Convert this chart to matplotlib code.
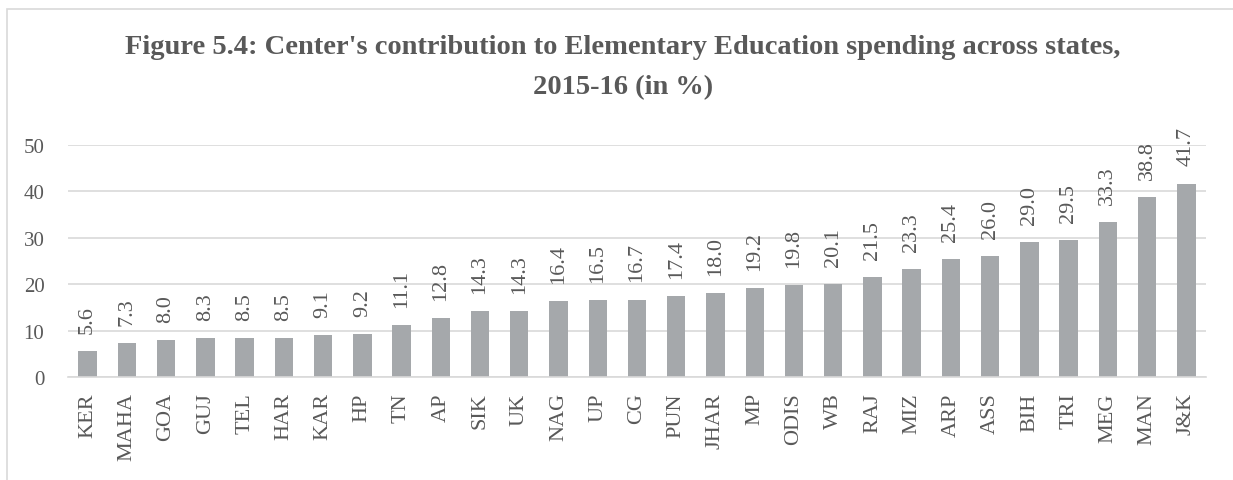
import matplotlib.pyplot as plt
import numpy as np
from matplotlib.patches import Rectangle

states = ['KER', 'MAHA', 'GOA', 'GUJ', 'TEL', 'HAR', 'KAR', 'HP', 'TN', 'AP',
          'SIK', 'UK', 'NAG', 'UP', 'CG', 'PUN', 'JHAR', 'MP', 'ODIS', 'WB',
          'RAJ', 'MIZ', 'ARP', 'ASS', 'BIH', 'TRI', 'MEG', 'MAN', 'J&K']
share = [5.6, 7.3, 8.0, 8.3, 8.5, 8.5, 9.1, 9.2, 11.1, 12.8,
         14.3, 14.3, 16.4, 16.5, 16.7, 17.4, 18.0, 19.2, 19.8, 20.1,
         21.5, 23.3, 25.4, 26.0, 29.0, 29.5, 33.3, 38.8, 41.7]

txt = '#595959'
plt.rcParams['font.family'] = ['Liberation Serif', 'DejaVu Serif']

fig = plt.figure(figsize=(12.33, 4.81), dpi=100)
ax = fig.add_axes([68 / 1233, 1 - 378 / 481, (1206 - 68) / 1233, (378 - 146) / 481])

# outer chart frame, clipped by the figure edge on right and bottom
fig.patches.append(Rectangle((7 / 1233, -0.1), 1.2, 1 - 10 / 481 + 0.1,
                             transform=fig.transFigure, fill=False,
                             edgecolor='#d9d9d9', linewidth=1.2))

x = np.arange(len(states))
ax.bar(x, share, width=0.47, color='#a5a8ab', zorder=2)
for xi, v in zip(x, share):
    ax.annotate(f'{v:.1f}', (xi, v), xytext=(0, 13), textcoords='offset points',
                rotation=90, ha='center', va='bottom',
                fontsize=16, color=txt, zorder=3)

ax.set_xlim(-0.5, len(states) - 0.5)
ax.set_ylim(0, 50)
ax.set_yticks(range(0, 51, 10))
ax.yaxis.grid(True, color='#d9d9d9', linewidth=1.2, zorder=0)
ax.set_axisbelow(True)
ax.set_xticks(x)
ax.set_xticklabels(states, rotation=90, fontsize=16, color=txt)
ax.tick_params(axis='y', labelsize=15, labelcolor=txt, length=0, pad=17)
ax.tick_params(axis='x', length=0, pad=11)
for s in ['top', 'right', 'left']:
    ax.spines[s].set_visible(False)
ax.spines['bottom'].set_color('#d9d9d9')
ax.spines['bottom'].set_linewidth(1.2)

fig.text(0.505, 1 - 48 / 481, "Figure 5.4: Center's contribution to Elementary Education spending across states,",
         ha='center', va='center', fontsize=20.5, fontweight='bold', color=txt)
fig.text(0.505, 1 - 88 / 481, '2015-16 (in %)',
         ha='center', va='center', fontsize=20.5, fontweight='bold', color=txt)

fig.savefig('out.png', dpi=100)
